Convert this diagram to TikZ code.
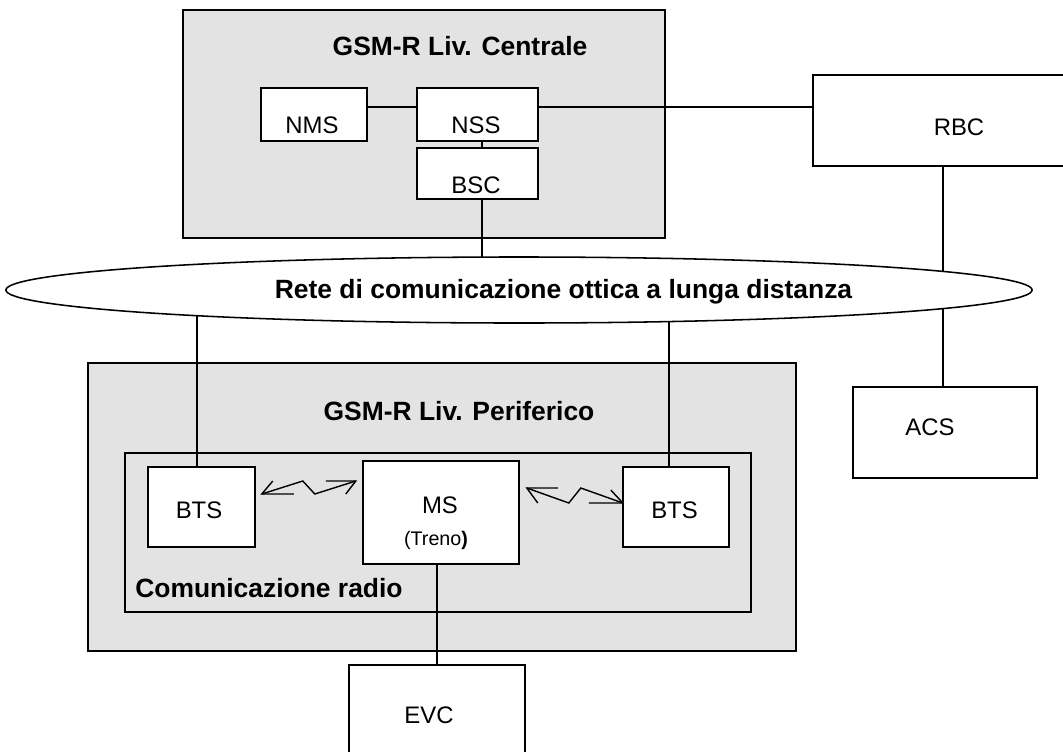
\documentclass[tikz,border=0pt]{standalone}
\usepackage{fontspec}
\setmainfont{Liberation Sans}
\usetikzlibrary{shapes.geometric}

\tikzset{
	area/.style={draw, fill=black!11, line width=1.1pt, inner sep=0pt},
	box/.style={draw, fill=white, line width=1.1pt, inner sep=0pt},
	link/.style={line width=0.9pt},
	radio/.style={line width=1pt},
	title/.style={font=\fontsize{18.8}{22}\selectfont\bfseries, anchor=base, inner sep=0pt},
	lbl/.style={font=\fontsize{17}{20}\selectfont, anchor=base, inner sep=0pt}
}

\begin{document}
\begin{tikzpicture}[x=0.025cm, y=-0.025cm]
		\useasboundingbox (0,0) rectangle (1063,751);

		\node[area, minimum width=12.05cm, minimum height=5.7cm] (centrale) at (424,124) {};
		\node[area, minimum width=17.7cm, minimum height=7.2cm] (periferico) at (442,507) {};
		\node[area, minimum width=15.65cm, minimum height=3.975cm] (radiozone) at (438,532.5) {};

		\node[box, minimum width=2.65cm, minimum height=1.325cm] (nms) at (314,114.5) {};
		\node[box, minimum width=3.025cm, minimum height=1.325cm] (nss) at (477.5,114.5) {};
		\node[box, minimum width=3.025cm, minimum height=1.275cm] (bsc) at (477.5,173.5) {};
		\node[box, minimum width=7.3cm, minimum height=2.275cm] (rbc) at (959,120.5) {};
		\node[box, minimum width=4.6cm, minimum height=2.275cm] (acs) at (945,432.5) {};
		\node[box, minimum width=2.675cm, minimum height=2cm] (btsl) at (201.5,507) {};
		\node[box, minimum width=2.65cm, minimum height=2cm] (btsr) at (676,507) {};
		\node[box, minimum width=3.9cm, minimum height=2.575cm] (ms) at (441,512.5) {};
		\node[box, minimum width=4.4cm, minimum height=2.45cm] (evc) at (437,714) {};

		% collegamenti
		\coordinate (retec) at (519,290);
		\coordinate (bus) at (0,107);
		\coordinate (trunk) at (482,0);
		\coordinate (tl) at (197,0);
		\coordinate (tr) at (669,0);
		\coordinate (ta) at (943,0);
		\draw[link] (nms.east |- bus) -- (nss.west |- bus);
		\draw[link] (nss.east |- bus) -- (rbc.west |- bus);
		\draw[link] (nss.south -| trunk) -- (bsc.north -| trunk);
		\draw[link] (bsc.south -| trunk) -- (retec -| trunk);
		\draw[link] (rbc.south -| ta) -- (acs.north -| ta);
		\draw[link] (btsl.north -| tl) -- (retec -| tl);
		\draw[link] (btsr.north -| tr) -- (retec -| tr);
		\draw[link] (ms.south -| evc.north) -- (evc.north);

		\node[ellipse, draw, fill=white, line width=1.1pt, minimum width=25.65cm,
			minimum height=1.65cm, inner sep=0pt] (rete) at (retec) {};

		% radio
		\draw[radio] ([shift={(6,-13)}]btsl.east) coordinate (la)
			-- ++(41,-13) -- ++(12,13) -- ++(41,-13) coordinate (lb);
		\draw[radio] (la) ++(32,0) -- (la) -- ++(11,-13);
		\draw[radio] (lb) ++(-30,0) -- (lb) -- ++(-10,13);
		\draw[radio] ([shift={(7,-24.5)}]ms.east) coordinate (ra)
			-- ++(42,15) -- ++(12,-15) -- ++(42,15) coordinate (rb);
		\draw[radio] (ra) ++(31,0) -- (ra) -- ++(11,15);
		\draw[radio] (rb) ++(-34,0) -- (rb) -- ++(-12,-13);

		\node[title] (centraletxt) at (460,55) {GSM-R Liv. Centrale};
		\node[title] (periferictxt) at (459,420) {GSM-R Liv. Periferico};
		\node[title] (retetxt) at (563.5,298) {Rete di comunicazione ottica a lunga distanza};
		\node[title, anchor=base west] (radiotxt) at (135,597) {Comunicazione radio};

		\node[lbl] (nmstxt) at (312,133) {NMS};
		\node[lbl] (nsstxt) at (476,133) {NSS};
		\node[lbl] (bsctxt) at (476,193) {BSC};
		\node[lbl] (rbctxt) at (959,135) {RBC};
		\node[lbl] (acstxt) at (930,435) {ACS};
		\node[lbl] (btsltxt) at (199,518) {BTS};
		\node[lbl] (btsrtxt) at (674.5,518) {BTS};
		\node[lbl] (mstxt) at (440,513) {MS};
		\node[lbl, font=\fontsize{14}{17}\selectfont] (trenotxt) at (436,545) {(Treno\textbf{)}};
		\node[lbl] (evctxt) at (429,723) {EVC};
	\end{tikzpicture}
\end{document}
